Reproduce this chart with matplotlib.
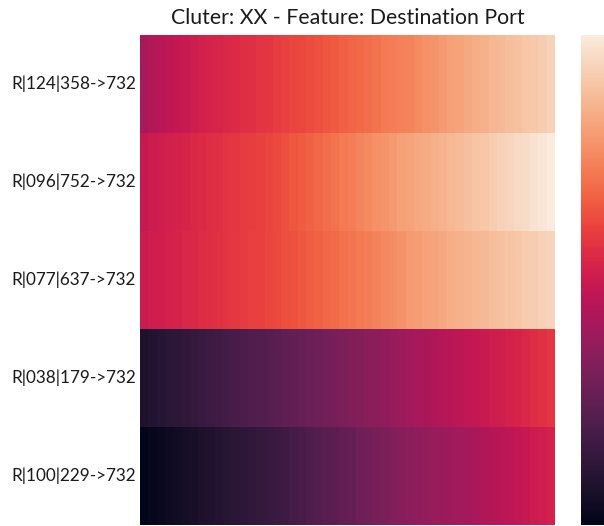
import numpy as np
import matplotlib

matplotlib.use('Agg')
import matplotlib.pyplot as plt
import seaborn as sns

row_labels = ['R|124|358->732', 'R|096|752->732', 'R|077|637->732',
              'R|038|179->732', 'R|100|229->732']

# normalised port-usage score per time bin, one list per flow
r124 = [0.415, 0.44, 0.455, 0.47, 0.485, 0.495, 0.505, 0.52, 0.53,
        0.535, 0.545, 0.55, 0.56, 0.565, 0.575, 0.58, 0.59,
        0.60, 0.61, 0.615, 0.625, 0.635,
        0.645, 0.655, 0.665, 0.675, 0.685, 0.695, 0.705, 0.72, 0.73,
        0.735, 0.74,
        0.755, 0.77, 0.78, 0.795, 0.805, 0.815, 0.83,
        0.84, 0.85, 0.86, 0.87, 0.88, 0.89, 0.90, 0.91, 0.92, 0.93]
r096 = [0.49, 0.50, 0.51, 0.52, 0.525, 0.535, 0.545, 0.55, 0.56, 0.565,
        0.575, 0.58, 0.59, 0.595, 0.605, 0.61, 0.62,
        0.63, 0.645, 0.655, 0.67, 0.68, 0.695, 0.705, 0.72, 0.73, 0.745,
        0.755, 0.77, 0.78, 0.79, 0.805, 0.815,
        0.825, 0.835, 0.845, 0.855, 0.865, 0.875, 0.885, 0.895, 0.905,
        0.92, 0.93, 0.94, 0.95, 0.96, 0.975, 0.985, 1.0]
r077 = [0.50, 0.51, 0.515, 0.525, 0.53, 0.54, 0.545, 0.555, 0.56, 0.57,
        0.575, 0.585, 0.59, 0.60, 0.605, 0.615, 0.62,
        0.63, 0.64, 0.65, 0.66, 0.67, 0.68, 0.69, 0.70, 0.71, 0.72,
        0.73, 0.74, 0.75, 0.765, 0.775, 0.79,
        0.80, 0.81, 0.82, 0.83, 0.84, 0.85, 0.855, 0.865, 0.87,
        0.88, 0.89, 0.895, 0.905, 0.915, 0.92, 0.93, 0.94]
r038 = [0.077, 0.09, 0.10, 0.11, 0.12, 0.13, 0.14, 0.15, 0.16, 0.17,
        0.18, 0.19, 0.20, 0.21, 0.215, 0.225, 0.235,
        0.245, 0.255, 0.265, 0.275, 0.285, 0.295, 0.305, 0.315, 0.325,
        0.335, 0.345, 0.355, 0.365, 0.38, 0.39, 0.405,
        0.415, 0.425, 0.435, 0.445, 0.455, 0.465, 0.475, 0.485, 0.495,
        0.505, 0.515, 0.525, 0.535, 0.545, 0.555, 0.57, 0.58]
r100 = [0.0, 0.015, 0.025, 0.035, 0.045, 0.055, 0.065, 0.075, 0.085, 0.095,
        0.105, 0.115, 0.12, 0.13, 0.14, 0.145, 0.155,
        0.165, 0.18, 0.19, 0.205, 0.215, 0.23, 0.24, 0.255, 0.265,
        0.28, 0.29, 0.305, 0.315, 0.33, 0.34, 0.35,
        0.36, 0.37, 0.375, 0.385, 0.395, 0.40, 0.41,
        0.42, 0.435, 0.445, 0.455, 0.465, 0.48, 0.49, 0.50, 0.51, 0.525]

data = np.array([r124, r096, r077, r038, r100])

fig = plt.figure(figsize=(6.04, 5.26), dpi=100)
ax = fig.add_axes([140 / 604, 1 - 525 / 526, 415 / 604, 490 / 526])
cax = fig.add_axes([581 / 604, 1 - 525 / 526, 30 / 604, 490 / 526])

sns.heatmap(data, ax=ax, cbar_ax=cax, cmap='rocket', vmin=0, vmax=1,
            xticklabels=False, yticklabels=row_labels)

ax.tick_params(axis='y', length=0, pad=3, labelsize=12.3, rotation=0)
for lbl in ax.get_yticklabels():
    lbl.set_fontfamily('Lato')
    lbl.set_color('#1a1a1a')
ax.set_title('Cluter: XX - Feature: Destination Port', fontsize=15.3,
             family='Lato', color='#1a1a1a', pad=8)
cax.set_yticks([])
cax.tick_params(length=0)

fig.savefig('out.png', dpi=100)
